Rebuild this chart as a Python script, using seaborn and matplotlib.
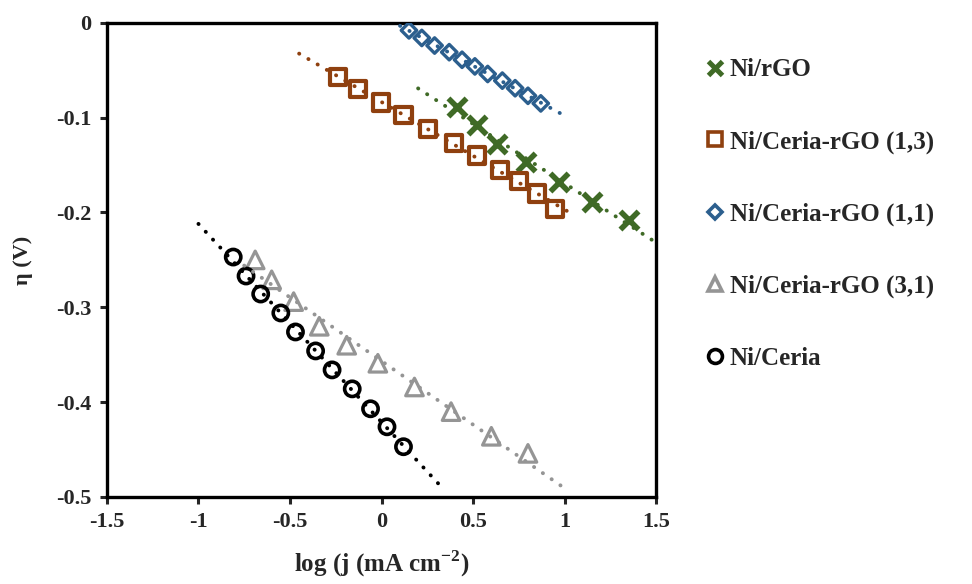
import numpy as np
import matplotlib.pyplot as plt
import seaborn as sns
from matplotlib.lines import Line2D

# values: x = log(j), y = overpotential (V)
ni_rgo_x = [0.41, 0.52, 0.63, 0.79, 0.97, 1.15, 1.35]
ni_rgo_y = [-0.089, -0.108, -0.128, -0.147, -0.168, -0.189, -0.208]

ceria_13_x = [-0.24, -0.13, -0.005, 0.12, 0.255, 0.395, 0.52, 0.645, 0.75, 0.85, 0.95]
ceria_13_y = [-0.057, -0.070, -0.084, -0.097, -0.112, -0.127, -0.140, -0.155, -0.167, -0.180, -0.196]

ceria_11_x = [0.15, 0.22, 0.29, 0.37, 0.44, 0.51, 0.58, 0.66, 0.73, 0.80, 0.87]
ceria_11_y = [-0.008, -0.016, -0.024, -0.031, -0.039, -0.046, -0.054, -0.061, -0.069, -0.077, -0.085]

ceria_31_x = [-0.69, -0.60, -0.48, -0.34, -0.19, -0.02, 0.18, 0.38, 0.60, 0.80]
ceria_31_y = [-0.250, -0.271, -0.294, -0.320, -0.340, -0.359, -0.384, -0.410, -0.436, -0.454]

ni_ceria_x = [-0.81, -0.74, -0.66, -0.55, -0.47, -0.36, -0.27, -0.16, -0.06, 0.03, 0.12]
ni_ceria_y = [-0.247, -0.267, -0.286, -0.306, -0.326, -0.346, -0.366, -0.386, -0.407, -0.426, -0.447]

labels = ['Ni/rGO', 'Ni/Ceria-rGO (1,3)', 'Ni/Ceria-rGO (1,1)',
          'Ni/Ceria-rGO (3,1)', 'Ni/Ceria']
# x range covered by each dotted trendline
trend_start = [0.20, -0.45, 0.05, -0.75, -1.0]
trend_end = [1.50, 1.02, 1.02, 1.00, 0.32]

series = [(ni_rgo_x, ni_rgo_y), (ceria_13_x, ceria_13_y), (ceria_11_x, ceria_11_y),
          (ceria_31_x, ceria_31_y), (ni_ceria_x, ni_ceria_y)]
colors = ['#3f6a26', '#8f400f', '#2c5f8e', '#959595', '#000000']
markers = ['x', 's', 'D', '^', 'o']
sizes = [170, 135, 62, 160, 120]
widths = [4.0, 3.0, 2.4, 2.3, 2.6]

sns.set_style('ticks')
plt.rcParams['font.family'] = ['Liberation Serif', 'DejaVu Serif']
plt.rcParams['font.weight'] = 'bold'
plt.rcParams['axes.unicode_minus'] = False
plt.rcParams['mathtext.fontset'] = 'custom'
plt.rcParams['mathtext.rm'] = 'Liberation Serif:bold'
plt.rcParams['mathtext.bf'] = 'Liberation Serif:bold'

fig = plt.figure(figsize=(9.72, 5.84), dpi=100)
ax = fig.add_axes([0.110, 0.149, 0.565, 0.812])

for (xs, ys), c, m, s, lw, t0, t1 in zip(series, colors, markers, sizes, widths,
                                         trend_start, trend_end):
    if m == 'x':
        sns.scatterplot(x=xs, y=ys, marker=m, s=s, color=c, linewidth=lw, ax=ax, zorder=3)
    else:
        sns.scatterplot(x=xs, y=ys, marker=m, s=s, color='white', edgecolor=c,
                        linewidth=lw, ax=ax, zorder=3)
        ax.collections[-1].set_facecolor('none')
    # linear trendline (excel style), dotted
    k, b = np.polyfit(xs, ys, 1)
    tx = np.array([t0, t1])
    ax.plot(tx, k * tx + b, color=c, lw=2.8, linestyle=(0, (0.05, 2.7)),
            dash_capstyle='round', zorder=4)

ax.set_xlim(-1.5, 1.5)
ax.set_ylim(-0.5, 0)
xt = [-1.5, -1, -0.5, 0, 0.5, 1, 1.5]
yt = [0, -0.1, -0.2, -0.3, -0.4, -0.5]
ax.set_xticks(xt)
ax.set_xticklabels(['%g' % v for v in xt])
ax.set_yticks(yt)
ax.set_yticklabels(['%g' % v for v in yt])
ax.tick_params(direction='out', length=5, width=2.2, labelsize=16, pad=6)
for sp in ax.spines.values():
    sp.set_linewidth(2.4)
    sp.set_color('black')

ax.set_xlabel(r'log (j (mA cm$^{-2}$)', fontsize=18, fontweight='bold', labelpad=12)
ax.set_ylabel('η (V)', fontsize=16, fontweight='bold', labelpad=17)

handles = []
for c, m, lw in zip(colors, markers, widths):
    if m == 'x':
        h = Line2D([], [], ls='none', marker=m, ms=10, color=c, mew=3.6)
    else:
        h = Line2D([], [], ls='none', marker=m, ms=10 if m != 'D' else 7.5,
                   mfc='white', mec=c, mew=2.6)
    handles.append(h)
fig.legend(handles, labels, loc='upper left', bbox_to_anchor=(0.725, 0.90),
           frameon=False, fontsize=18, handlelength=0.8, handletextpad=0.2,
           labelspacing=1.95, borderpad=0, borderaxespad=0)

fig.savefig('out.png', dpi=100)
